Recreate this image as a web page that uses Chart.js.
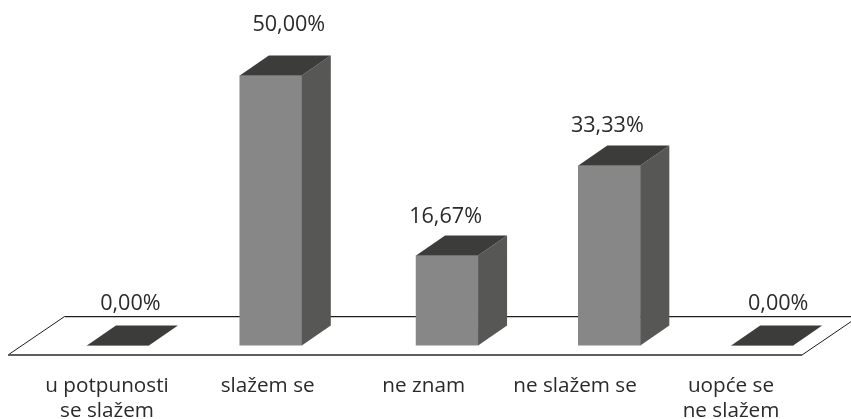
<!DOCTYPE html>
<html>
<head>
<meta charset="utf-8">
<style>html,body{margin:0;padding:0;background:#fff}canvas{display:block}</style>
<script src="https://cdn.jsdelivr.net/npm/chart.js@4"></script>
</head>
<body>
<canvas id="c" width="851" height="419"></canvas>
<script>
// Data
const categories = [["u potpunosti","se slažem"],["slažem se"],["ne znam"],["ne slažem se"],["uopće se","ne slažem"]];
const percentValues = [0, 50, 16.67, 33.33, 0];
const valueLabels = ["0,00%","50,00%","16,67%","33,33%","0,00%"];

// Unevenly spaced axis positions (in category units)
const barAxisPositions = [0.07, 1.05, 2.18, 3.22, 4.2];
const labelAxisPositions = [0, 1.03, 2.03, 3, 4];

// Style
const FRONT = "#878787", SIDE = "#575756", TOP = "#3c3c3b", TEXT = "#2b2a29";
const FONT = '"Open Sans", sans-serif';
const DEPTH_X = 29, DEPTH_Y = 20;
const labelGap = [16, 25, 13, 14, 16];
const labelShift = [12.5, 18, -1.5, -2, 16];

const prism = {
  id: "prism",
  beforeDatasetsDraw(chart) {
    const { ctx, scales: { y } } = chart;
    const base = y.getPixelForValue(0);
    const front = Math.round(base + 9.4), back = Math.round(base - 30) + 0.5;
    const skew = (front - back) * 1.47;
    const left = 8, right = 802;
    ctx.save();
    ctx.lineWidth = 1; ctx.strokeStyle = "#1d1d1b";
    ctx.beginPath();
    ctx.moveTo(left, front); ctx.lineTo(left + skew, back); ctx.lineTo(chart.width, back);
    ctx.moveTo(right, front); ctx.lineTo(right + skew, back);
    ctx.stroke();
    ctx.strokeStyle = "#c6c6c6";
    ctx.beginPath(); ctx.moveTo(left + skew, back + 1); ctx.lineTo(chart.width, back + 1); ctx.stroke();
    ctx.lineWidth = 2; ctx.strokeStyle = "#5f5f5f";
    ctx.beginPath(); ctx.moveTo(left, front); ctx.lineTo(right, front); ctx.stroke();
    ctx.restore();
  },
  afterDatasetsDraw(chart) {
    const { ctx } = chart;
    const bars = chart.getDatasetMeta(0).data;
    ctx.save();
    bars.forEach((bar, i) => {
      const l = bar.x - bar.width / 2, r = bar.x + bar.width / 2, t = bar.y, b = bar.base;
      ctx.fillStyle = SIDE;
      ctx.beginPath();
      ctx.moveTo(r, t); ctx.lineTo(r + DEPTH_X, t - DEPTH_Y);
      ctx.lineTo(r + DEPTH_X, b - DEPTH_Y); ctx.lineTo(r, b);
      ctx.closePath(); ctx.fill();
      ctx.fillStyle = TOP;
      ctx.beginPath();
      ctx.moveTo(l, t); ctx.lineTo(l + DEPTH_X, t - DEPTH_Y);
      ctx.lineTo(r + DEPTH_X, t - DEPTH_Y); ctx.lineTo(r, t);
      ctx.closePath(); ctx.fill();
      ctx.fillStyle = TEXT;
      ctx.font = "21.6px " + FONT;
      ctx.textAlign = "center"; ctx.textBaseline = "alphabetic";
      ctx.fillText(valueLabels[i], bar.x + labelShift[i], t - DEPTH_Y - labelGap[i]);
    });
    ctx.restore();
  }
};

new Chart(document.getElementById("c"), {
  type: "bar",
  data: {
    datasets: [{
      data: percentValues.map((v, i) => ({ x: barAxisPositions[i], y: v })),
      backgroundColor: FRONT,
      borderWidth: 0,
      barThickness: 62
    }]
  },
  options: {
    responsive: false,
    animation: false,
    layout: { padding: 0 },
    plugins: { legend: { display: false }, tooltip: { enabled: false }, title: { display: false } },
    scales: {
      x: {
        type: "linear",
        offset: false,
        min: -107 / 156,
        max: (851 - 107) / 156,
        grid: { display: false },
        border: { display: false },
        afterBuildTicks(axis) { axis.ticks = labelAxisPositions.map(v => ({ value: v })); },
        afterFit(axis) { axis.height = 73.4; },
        ticks: {
          autoSkip: false, maxRotation: 0, minRotation: 0, padding: 20,
          color: TEXT,
          font: { family: FONT, size: 20.7, lineHeight: 1.21 },
          callback(value, index) { return categories[index]; }
        }
      },
      y: { display: false, min: 0, max: 64 }
    }
  },
  plugins: [prism]
});
</script>
</body>
</html>
